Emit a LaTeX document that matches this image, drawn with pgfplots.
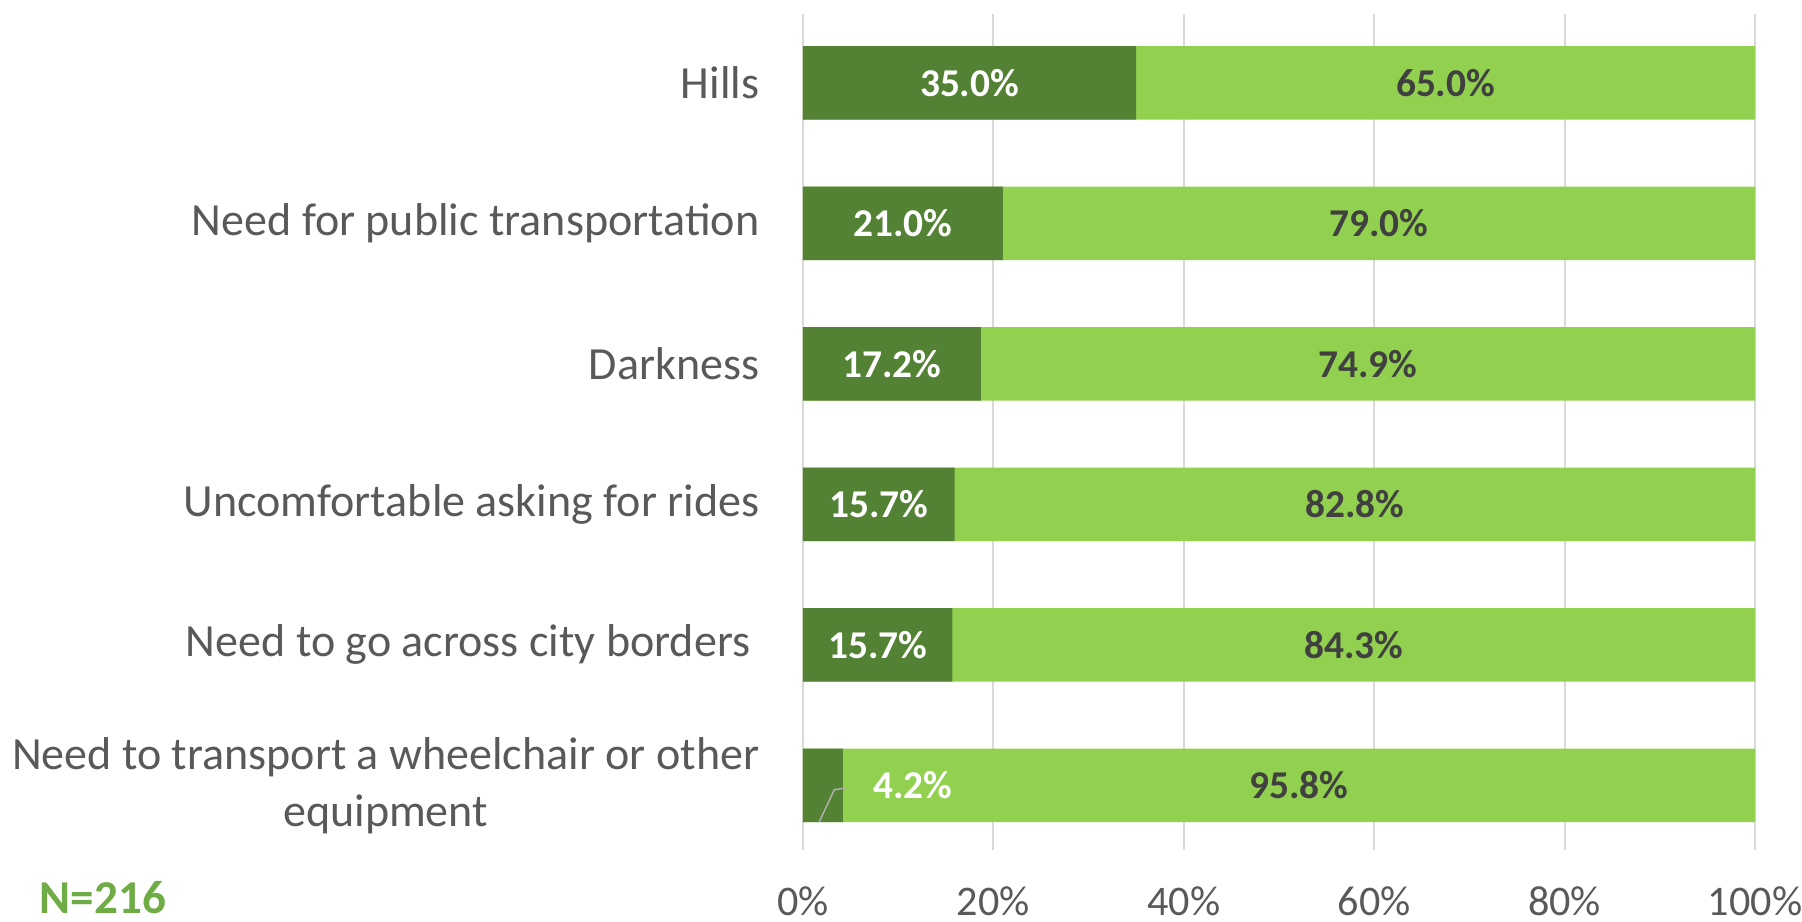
\documentclass[border=0pt]{standalone}
\usepackage{pgfplots}
\pgfplotsset{compat=1.18}
\usepackage{fontspec}
\setmainfont{Carlito}
\definecolor{darkg}{HTML}{548235}
\definecolor{lightg}{HTML}{92D050}
\definecolor{labgray}{HTML}{595959}
\definecolor{valgray}{HTML}{404040}
\definecolor{gridg}{HTML}{D9D9D9}
\definecolor{ngreen}{HTML}{6FAC46}
\begin{document}
\begin{tikzpicture}
\useasboundingbox (-80.3mm,-7.1mm) rectangle (99.9mm,85.0mm);
\begin{axis}[
    at={(0,0)}, anchor=south west,
    scale only axis,
    width=95.2mm, height=83.6mm,
    xmin=0, xmax=100,
    ymin=-0.49, ymax=5.46,
    y dir=reverse,
    axis line style={draw=none},
    tick style={draw=none},
    xmajorgrids, grid style={gridg, line width=0.6pt},
    xtick={0,20,40,60,80,100},
    xticklabels={0\%,20\%,40\%,60\%,80\%,100\%},
    xticklabel style={font=\fontsize{12}{14}\selectfont, text=labgray, inner sep=0pt, anchor=north, yshift=-3.6mm},
    ytick={0,1,2,3,4,5},
    yticklabels={Hills, Need for public transportation, Darkness, Uncomfortable asking for rides, Need to go across city borders\hspace*{0.9mm}, Need to transport a wheelchair or other\\equipment},
    yticklabel style={font=\fontsize{13.1}{16.3}\selectfont, text=labgray, align=center, inner sep=0pt, anchor=east, xshift=-4.3mm},
    clip=false,
]
% light segment (share of the bar, normalised to 100)
\addplot[xbar, bar width=7.35mm, bar shift=0pt, fill=lightg, draw=none] coordinates {
    (100,0) (100,1) (100,2) (100,3) (100,4) (100,5)};
% dark segment, normalised: 17.2/92.1, 15.7/98.5
\addplot[xbar, bar width=7.35mm, bar shift=0pt, fill=darkg, draw=none] coordinates {
    (35.0,0) (21.0,1) (18.68,2) (15.94,3) (15.7,4) (4.2,5)};
% value labels
\addplot[only marks, mark=none, point meta=explicit symbolic, nodes near coords,
    nodes near coords style={anchor=center, text=white, font=\fontsize{11.2}{13}\selectfont\bfseries}]
    coordinates {(17.5,0) [35.0\%] (10.5,1) [21.0\%] (9.34,2) [17.2\%] (7.97,3) [15.7\%] (7.85,4) [15.7\%]};
\addplot[only marks, mark=none, point meta=explicit symbolic, nodes near coords,
    nodes near coords style={anchor=west, text=white, font=\fontsize{11.2}{13}\selectfont\bfseries}]
    coordinates {(6.1,5) [4.2\%]};
\addplot[only marks, mark=none, point meta=explicit symbolic, nodes near coords,
    nodes near coords style={anchor=center, text=valgray, font=\fontsize{11.2}{13}\selectfont\bfseries}]
    coordinates {(67.5,0) [65.0\%] (60.5,1) [79.0\%] (59.34,2) [74.9\%] (57.97,3) [82.8\%] (57.85,4) [84.3\%] (52.1,5) [95.8\%]};
\draw[gray!60, line width=0.4pt] (axis cs:1.7,5.26) -- (axis cs:3.3,5.03) -- (axis cs:4.4,5.02);
\node[font=\fontsize{13.4}{15}\selectfont\bfseries, text=ngreen, inner sep=0pt]
    at (rel axis cs:0,0) [xshift=-70mm, yshift=-4.8mm] {N=216};
\end{axis}
\end{tikzpicture}
\end{document}
